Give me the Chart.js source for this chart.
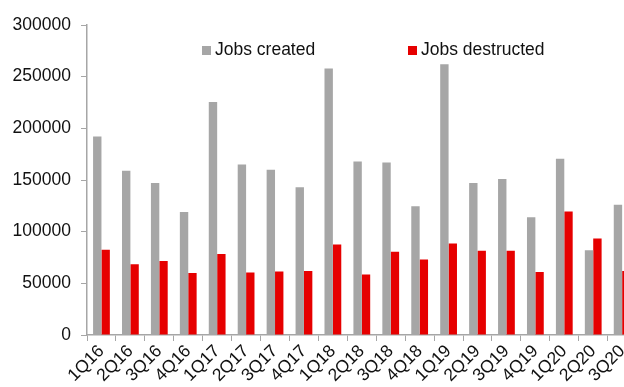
<!DOCTYPE html>
<html>
<head>
<meta charset="utf-8">
<script src="https://cdn.jsdelivr.net/npm/chart.js@4"></script>
<style>
  html, body { margin: 0; padding: 0; background: #fff; overflow: hidden; }
  #wrap { width: 637px; height: 387px; }
</style>
</head>
<body>
<div id="wrap"><canvas id="jobsChart" width="637" height="387"></canvas></div>
<script>
// Quarters shown on the x axis
const quarters = ['1Q16', '2Q16', '3Q16', '4Q16', '1Q17', '2Q17', '3Q17', '4Q17',
    '1Q18', '2Q18', '3Q18', '4Q18', '1Q19', '2Q19', '3Q19', '4Q19', '1Q20', '2Q20', '3Q20'];

// Values
const jobsCreated = [192000, 159000, 147000, 119000, 225500, 165000, 160000, 143000,
    258000, 168000, 167000, 124500, 262000, 147000, 151000, 114000, 170500, 82000, 126000];
const jobsDestructed = [82500, 68500, 71500, 60000, 78500, 60500, 61500, 62000,
    87500, 58500, 80500, 73000, 88500, 81500, 81500, 61000, 119500, 93500, 62000];

const yTicks = [0, 50000, 100000, 150000, 200000, 250000, 300000];

const FONT = { family: '"Liberation Sans", Arial, sans-serif', size: 17.5 };

// Legend sits inside the plot area, drawn by hand
const innerLegend = {
    id: 'innerLegend',
    afterDraw(chart) {
        const ctx = chart.ctx;
        const spots = [202, 408];
        ctx.save();
        ctx.font = `${FONT.size}px ${FONT.family}`;
        ctx.textBaseline = 'middle';
        chart.data.datasets.forEach((ds, i) => {
            const x = spots[i];
            ctx.fillStyle = ds.backgroundColor;
            ctx.fillRect(x, 46, 9, 9);
            ctx.fillStyle = '#111';
            ctx.fillText(ds.label, x + 13, 50.5);
        });
        ctx.restore();
    }
};

new Chart(document.getElementById('jobsChart'), {
    type: 'bar',
    data: {
        labels: quarters,
        datasets: [
            { label: 'Jobs created', data: jobsCreated, backgroundColor: '#a6a6a6' },
            { label: 'Jobs destructed', data: jobsDestructed, backgroundColor: '#e60000' }
        ]
    },
    options: {
        responsive: false,
        animation: false,
        devicePixelRatio: 1,
        layout: { padding: { top: 25, right: 0, left: 0, bottom: 0 } },
        datasets: { bar: { categoryPercentage: 0.58, barPercentage: 1.0 } },
        plugins: { legend: { display: false }, tooltip: { enabled: false } },
        scales: {
            x: {
                grid: { drawOnChartArea: false, tickLength: 6, color: '#a6a6a6' },
                border: { color: '#a6a6a6', width: 1.5 },
                ticks: { color: '#111', font: FONT, minRotation: 45, maxRotation: 45, padding: 0, autoSkip: false },
                afterFit: (scale) => { scale.height = 52; }
            },
            y: {
                min: 0,
                max: 300000,
                afterBuildTicks: (scale) => { scale.ticks = yTicks.map(v => ({ value: v })); },
                grid: { drawOnChartArea: false, tickLength: 6, color: '#a6a6a6' },
                border: { color: '#a6a6a6', width: 1.5 },
                ticks: { color: '#111', font: FONT, padding: 10, callback: (v) => String(v) },
                afterFit: (scale) => { scale.width = 87; }
            }
        }
    },
    plugins: [innerLegend]
});
</script>
</body>
</html>
